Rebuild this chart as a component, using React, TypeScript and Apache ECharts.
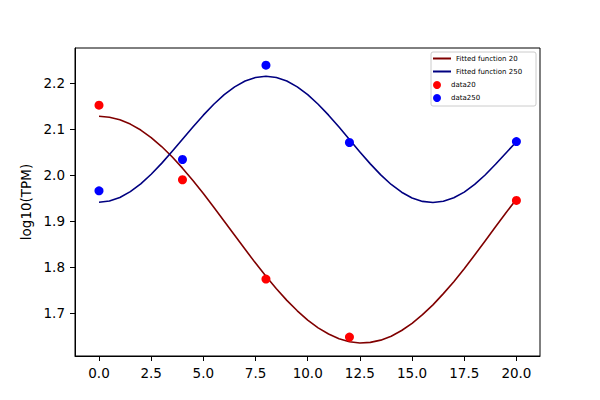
import React, { useEffect, useRef } from "react";
import * as echarts from "echarts";

const timePoints = [0, 4, 8, 12, 20];
const data20 = [2.152, 1.99, 1.774, 1.648, 1.945];
const data250 = [1.966, 2.034, 2.239, 2.071, 2.073];

const fitTimes = [
  0, 0.5, 1, 1.5, 2, 2.5, 3, 3.5, 4, 4.5, 5, 5.5, 6, 6.5, 7, 7.5, 8, 8.5, 9, 9.5, 10,
  10.5, 11, 11.5, 12, 12.5, 13, 13.5, 14, 14.5, 15, 15.5, 16, 16.5, 17, 17.5, 18, 18.5, 19, 19.5, 20,
];
const fit20 = [
  2.128, 2.126, 2.1204, 2.111, 2.098, 2.0816, 2.0622, 2.0399, 2.0152, 1.9885, 1.9602, 1.9304, 1.8999,
  1.8692, 1.8387, 1.8088, 1.78, 1.7531, 1.7278, 1.7051, 1.6848, 1.668, 1.6546, 1.6444, 1.6378, 1.6351,
  1.6364, 1.6413, 1.6499, 1.6622, 1.6778, 1.6966, 1.718, 1.7424, 1.7684, 1.7965, 1.8263, 1.8568,
  1.8877, 1.9184, 1.9474,
];
const fit250 = [
  1.941, 1.9436, 1.9514, 1.9641, 1.9811, 2.0019, 2.0256, 2.0513, 2.078, 2.1047, 2.1304, 2.1541, 2.1749,
  2.1919, 2.2046, 2.2124, 2.215, 2.2124, 2.2046, 2.1919, 2.1749, 2.1541, 2.1304, 2.1045, 2.0775,
  2.0505, 2.0245, 2.0005, 1.9797, 1.9629, 1.9504, 1.9429, 1.9405, 1.9431, 1.9507, 1.9631, 1.9798,
  2.0003, 2.0237, 2.0483, 2.0725,
];

const xTicks = [0, 2.5, 5, 7.5, 10, 12.5, 15, 17.5, 20];
const yTicks = [1.7, 1.8, 1.9, 2.0, 2.1, 2.2];

const FONT = "DejaVu Sans";

export default function App() {
  const ref = useRef<HTMLDivElement>(null);
  useEffect(() => {
    document.body.style.margin = "0";
    if (!ref.current) return;
    const chart = echarts.init(ref.current, undefined, { renderer: "svg" });
    const pair = (xs: number[], ys: number[]) => xs.map((x, i) => [x, ys[i]]);
    const legendText = { color: "#000", fontSize: 7, fontFamily: FONT, lineHeight: 9 };
    chart.setOption({
      animation: false,
      backgroundColor: "#fff",
      textStyle: { fontFamily: FONT },
      grid: {
        left: 75,
        right: 60,
        top: 48,
        bottom: 44,
        show: true,
        borderColor: "#000",
        borderWidth: 1,
        backgroundColor: "transparent",
      },
      xAxis: {
        type: "value",
        min: -1.15,
        max: 21.13,
        splitLine: { show: false },
        axisLine: { show: true, onZero: false, lineStyle: { color: "#000", width: 1 } },
        axisTick: {
          show: true,
          length: 5,
          lineStyle: { color: "#000", width: 1 },
          customValues: xTicks,
        },
        axisLabel: {
          color: "#000",
          fontSize: 13.5,
          fontFamily: FONT,
          margin: 10,
          customValues: xTicks,
          formatter: (v: number) => v.toFixed(1),
        },
      },
      yAxis: {
        type: "value",
        min: 1.6068,
        max: 2.2764,
        name: "log10(TPM)",
        nameLocation: "middle",
        nameGap: 37,
        nameTextStyle: { color: "#000", fontSize: 13.5, fontFamily: FONT },
        splitLine: { show: false },
        axisLine: { show: true, onZero: false, lineStyle: { color: "#000", width: 1 } },
        axisTick: {
          show: true,
          length: 5,
          lineStyle: { color: "#000", width: 1 },
          customValues: yTicks,
        },
        axisLabel: {
          color: "#000",
          fontSize: 13.5,
          fontFamily: FONT,
          margin: 10,
          customValues: yTicks,
          formatter: (v: number) => v.toFixed(1),
        },
      },
      legend: [
        {
          orient: "vertical",
          left: 428,
          top: 49,
          itemWidth: 18,
          itemHeight: 2,
          itemGap: 4,
          icon: "rect",
          textStyle: legendText,
          data: ["Fitted function 20", "Fitted function 250"],
        },
        {
          orient: "vertical",
          left: 428,
          top: 75.5,
          itemWidth: 18,
          itemHeight: 8,
          itemGap: 4,
          icon: "circle",
          textStyle: legendText,
          data: ["data20", "data250"],
        },
      ],
      graphic: [
        {
          type: "rect",
          z: 1,
          shape: { x: 431, y: 52, width: 105, height: 54, r: 2 },
          style: { fill: "rgba(255,255,255,0.8)", stroke: "#cccccc", lineWidth: 1 },
        },
      ],
      series: [
        {
          name: "Fitted function 20",
          type: "line",
          data: pair(fitTimes, fit20),
          smooth: false,
          showSymbol: false,
          symbol: "none",
          lineStyle: { color: "#800000", width: 1.6, join: "round" },
          itemStyle: { color: "#800000" },
          z: 2,
        },
        {
          name: "Fitted function 250",
          type: "line",
          data: pair(fitTimes, fit250),
          smooth: false,
          showSymbol: false,
          symbol: "none",
          lineStyle: { color: "#000080", width: 1.6, join: "round" },
          itemStyle: { color: "#000080" },
          z: 2,
        },
        {
          name: "data20",
          type: "scatter",
          data: pair(timePoints, data20),
          symbolSize: 9,
          itemStyle: { color: "#ff0000", opacity: 1 },
          z: 3,
        },
        {
          name: "data250",
          type: "scatter",
          data: pair(timePoints, data250),
          symbolSize: 9,
          itemStyle: { color: "#0000ff", opacity: 1 },
          z: 3,
        },
      ],
    });
    return () => chart.dispose();
  }, []);
  return <div ref={ref} style={{ width: 600, height: 400 }} />;
}
